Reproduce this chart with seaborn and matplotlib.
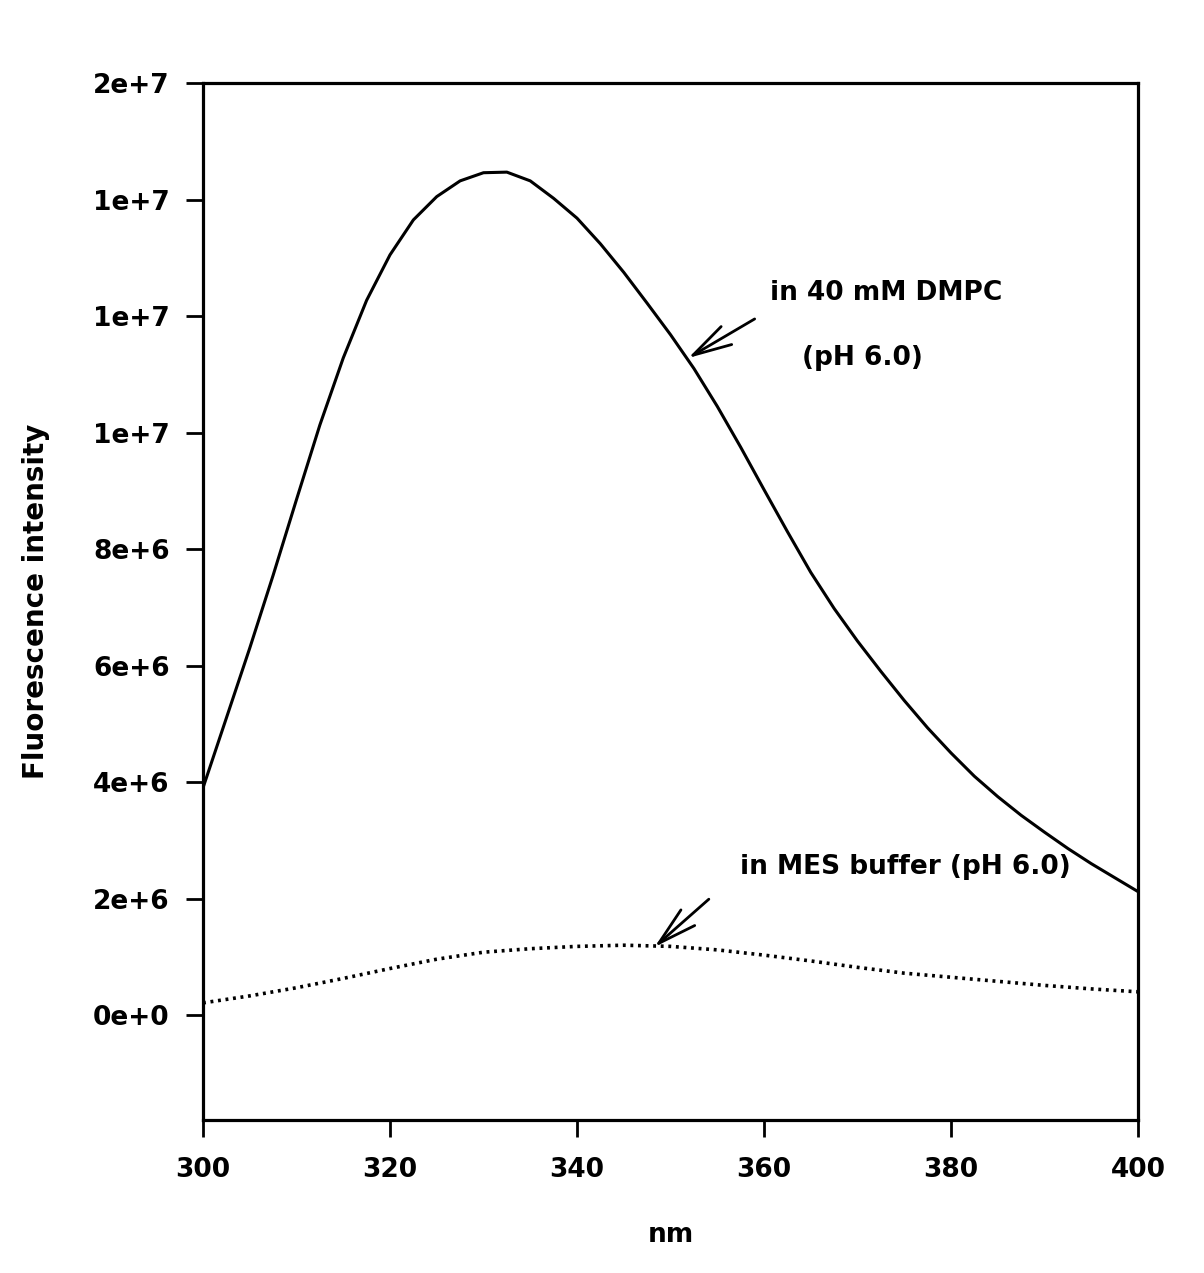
import matplotlib
matplotlib.use("Agg")
import matplotlib.pyplot as plt
from matplotlib.ticker import FuncFormatter, FixedLocator
import pandas as pd
import seaborn as sns

# Emission wavelengths (nm)
wl_dmpc = [300, 302.5, 305, 307.5, 310, 312.5, 315, 317.5, 320, 322.5, 325,
           327.5, 330, 332.5, 335, 337.5, 340, 342.5, 345, 347.5, 350, 352.5,
           355, 357.5, 360, 362.5, 365, 367.5, 370, 372.5, 375, 377.5, 380,
           382.5, 385, 387.5, 390, 392.5, 395, 397.5, 400]
# Fluorescence intensity in 40 mM DMPC (pH 6.0)
int_dmpc = [3.90e6, 5.10e6, 6.30e6, 7.55e6, 8.85e6, 10.13e6, 11.28e6, 12.27e6,
            13.05e6, 13.65e6, 14.05e6, 14.32e6, 14.46e6, 14.47e6, 14.32e6,
            14.02e6, 13.68e6, 13.24e6, 12.75e6, 12.22e6, 11.68e6, 11.10e6,
            10.45e6, 9.75e6, 9.02e6, 8.30e6, 7.60e6, 6.98e6, 6.42e6, 5.90e6,
            5.40e6, 4.93e6, 4.50e6, 4.10e6, 3.75e6, 3.43e6, 3.14e6, 2.86e6,
            2.60e6, 2.36e6, 2.12e6]

wl_mes = [300, 305, 310, 315, 320, 325, 330, 335, 340, 345, 350, 355, 360,
          365, 370, 375, 380, 385, 390, 395, 400]
# Fluorescence intensity in MES buffer (pH 6.0)
int_mes = [0.21e6, 0.33e6, 0.47e6, 0.63e6, 0.80e6, 0.96e6, 1.08e6, 1.14e6,
           1.18e6, 1.20e6, 1.18e6, 1.12e6, 1.03e6, 0.93e6, 0.82e6, 0.72e6,
           0.65e6, 0.58e6, 0.51e6, 0.45e6, 0.40e6]

x_ticks = [300, 320, 340, 360, 380, 400]
y_ticks = [0, 2e6, 4e6, 6e6, 8e6, 1.0e7, 1.2e7, 1.4e7, 1.6e7]

sns.set_style("ticks")
plt.rcParams["font.family"] = ["DejaVu Sans"]
plt.rcParams["font.weight"] = "bold"
plt.rcParams["text.color"] = "black"
plt.rcParams["axes.labelcolor"] = "black"

df_dmpc = pd.DataFrame({"nm": wl_dmpc, "intensity": int_dmpc})
df_mes = pd.DataFrame({"nm": wl_mes, "intensity": int_mes})

fig = plt.figure(figsize=(12.04, 12.73), dpi=100, facecolor="white")
ax = fig.add_axes([0.1686, 0.1202, 0.7766, 0.8146])
ax.set_facecolor("white")

sns.lineplot(data=df_dmpc, x="nm", y="intensity", ax=ax, color="black",
             linewidth=2.2, legend=False)
sns.lineplot(data=df_mes, x="nm", y="intensity", ax=ax, color="black",
             linewidth=2.6, linestyle=(0, (0.8, 1.3)), legend=False)

ax.set_xlim(300, 400)
ax.set_ylim(-1.8e6, 1.6e7)
ax.xaxis.set_major_locator(FixedLocator(x_ticks))
ax.yaxis.set_major_locator(FixedLocator(y_ticks))


def sci_label(v, pos):
    m, e = f"{v:.0e}".split("e")
    return f"{m}e{e[0]}{int(e[1:])}"


ax.yaxis.set_major_formatter(FuncFormatter(sci_label))

for side in ["left", "right", "top", "bottom"]:
    ax.spines[side].set_visible(True)
    ax.spines[side].set_linewidth(2.3)
    ax.spines[side].set_color("black")

ax.tick_params(axis="both", direction="out", length=12, width=2.0,
               colors="black", labelsize=19)
ax.tick_params(axis="y", pad=12)
ax.tick_params(axis="x", pad=15)
for lbl in ax.get_xticklabels() + ax.get_yticklabels():
    lbl.set_fontweight("bold")

ax.set_xlabel("nm", fontsize=19, fontweight="bold", color="black")
ax.set_ylabel("Fluorescence intensity", fontsize=20, fontweight="bold",
              color="black")
ax.xaxis.set_label_coords(0.5, -0.098)
ax.yaxis.set_label_coords(-0.164, 0.5)

arrow_kw = dict(arrowstyle="->, head_length=2.8, head_width=0.75",
                mutation_scale=10, color="black", lw=2.0,
                shrinkA=0, shrinkB=0)

ax.annotate("", xy=(351.9, 11.28e6), xytext=(359.0, 11.95e6),
            arrowprops=arrow_kw)
ax.text(360.6, 12.39e6, "in 40 mM DMPC", fontsize=19, fontweight="bold",
        color="black", ha="left", va="center")
ax.text(364.1, 11.28e6, "(pH 6.0)", fontsize=19, fontweight="bold",
        color="black", ha="left", va="center")

ax.annotate("", xy=(348.3, 1.17e6), xytext=(354.1, 1.99e6),
            arrowprops=arrow_kw)
ax.text(357.4, 2.54e6, "in MES buffer (pH 6.0)", fontsize=19,
        fontweight="bold", color="black", ha="left", va="center")

fig.savefig("out.png", dpi=100, facecolor="white")
